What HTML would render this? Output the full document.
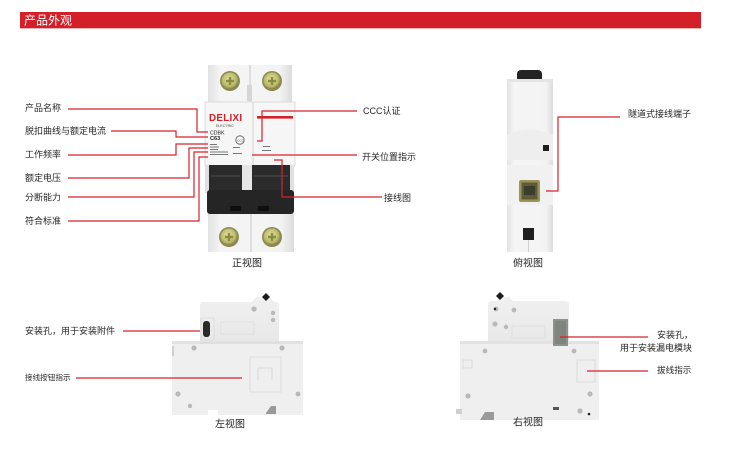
<!DOCTYPE html>
<html><head><meta charset="utf-8">
<style>
html,body{margin:0;padding:0;background:#fff;}
svg{display:block;}
text{font-family:"Liberation Sans","Noto Sans CJK SC",sans-serif;}
</style></head>
<body>
<svg width="731" height="454" viewBox="0 0 731 454" xmlns="http://www.w3.org/2000/svg">
<defs>
<radialGradient id="scr" cx="0.45" cy="0.4" r="0.6">
<stop offset="0" stop-color="#e6e6a0"/><stop offset="0.7" stop-color="#b9b86a"/><stop offset="1" stop-color="#7f7d45"/>
</radialGradient>
<linearGradient id="body" x1="0" x2="1" y1="0" y2="0">
<stop offset="0" stop-color="#e2e2e2"/><stop offset="0.15" stop-color="#f5f5f5"/><stop offset="0.85" stop-color="#f3f3f3"/><stop offset="1" stop-color="#dcdcdc"/>
</linearGradient>
<linearGradient id="side" x1="0" x2="0" y1="0" y2="1">
<stop offset="0" stop-color="#f0f0f0"/><stop offset="1" stop-color="#e8e8e8"/>
</linearGradient>
</defs>

<!-- header bar -->
<rect x="20" y="12" width="681" height="16" fill="#d31f28"/>
<rect x="20" y="28" width="681" height="1" fill="#e8b4b6"/>
<text x="24" y="24.5" font-size="12" fill="#fff">产品外观</text>

<!-- ============ FRONT VIEW ============ -->
<g>
<rect x="208" y="65" width="84" height="38" fill="url(#body)"/>
<line x1="250" y1="65" x2="250" y2="103" stroke="#c9c9c9" stroke-width="1"/>
<rect x="247" y="85" width="5" height="16" fill="#d5d5d5"/>
<circle cx="230" cy="81" r="10" fill="#8c8a52"/>
<circle cx="230" cy="81" r="8.5" fill="url(#scr)"/>
<path d="M226,81h8M230,77v8" stroke="#8a8a40" stroke-width="2.4"/>
<circle cx="272" cy="81" r="10" fill="#8c8a52"/>
<circle cx="272" cy="81" r="8.5" fill="url(#scr)"/>
<path d="M268,81h8M272,77v8" stroke="#8a8a40" stroke-width="2.4"/>
<rect x="205" y="102" width="90" height="64" fill="#f6f6f6" stroke="#d6d6d6" stroke-width="0.8"/>
<line x1="253" y1="102" x2="253" y2="166" stroke="#d0d0d0" stroke-width="0.8"/>
<text x="209" y="121" font-size="9.8" font-weight="bold" fill="#d0212a" letter-spacing="0.3">DELIXI</text>
<text x="216" y="127" font-size="3.6" fill="#444">ELECTRIC</text>
<text x="210" y="134.5" font-size="5.2" fill="#222">CDBK</text>
<text x="210" y="140" font-size="5.6" fill="#222" font-weight="bold">C63</text>
<circle cx="240" cy="140" r="4.2" fill="none" stroke="#555" stroke-width="0.8"/>
<text x="237.3" y="141.6" font-size="3" fill="#444">CCC</text>
<g fill="#777">
<rect x="210" y="144" width="7" height="1"/>
<rect x="210" y="146.5" width="9" height="1"/>
<rect x="210" y="149" width="8" height="1"/>
<rect x="210" y="151.5" width="18" height="1"/>
<rect x="210" y="154" width="18" height="1"/>
<rect x="233" y="147" width="7" height="1"/>
<rect x="233" y="153" width="9" height="1"/>
<rect x="263" y="146" width="7" height="1"/>
<rect x="262" y="150" width="9" height="1"/>
</g>
<rect x="257" y="116" width="36" height="2.6" fill="#d3212a"/>
<rect x="209" y="165" width="33" height="28" fill="#2b2b2b"/>
<rect x="252" y="165" width="38" height="28" fill="#2b2b2b"/>
<rect x="242" y="165" width="10" height="28" fill="#e6e6e6"/>
<rect x="290" y="165" width="4" height="28" fill="#e0e0e0"/>
<rect x="205" y="165" width="4" height="28" fill="#e0e0e0"/>
<rect x="211" y="175" width="29" height="2" fill="#3d3d3d"/>
<rect x="254" y="175" width="34" height="2" fill="#3d3d3d"/>
<rect x="207" y="190" width="87" height="24" rx="3" fill="#252525"/>
<rect x="230" y="206" width="11" height="5" fill="#0e0e0e"/>
<rect x="258" y="206" width="11" height="5" fill="#0e0e0e"/>
<rect x="208" y="214" width="86" height="38" fill="url(#body)"/>
<line x1="251" y1="214" x2="251" y2="252" stroke="#c9c9c9" stroke-width="1"/>
<circle cx="229" cy="237" r="10" fill="#8c8a52"/>
<circle cx="229" cy="237" r="8.5" fill="url(#scr)"/>
<path d="M225,237h8M229,233v8" stroke="#8a8a40" stroke-width="2.4"/>
<circle cx="272" cy="237" r="10" fill="#8c8a52"/>
<circle cx="272" cy="237" r="8.5" fill="url(#scr)"/>
<path d="M268,237h8M272,233v8" stroke="#8a8a40" stroke-width="2.4"/>
</g>

<!-- ============ TOP VIEW ============ -->
<g>
<rect x="517" y="70" width="25" height="12" rx="4" fill="#232323"/>
<rect x="507" y="79" width="46" height="173" fill="url(#body)"/>
<rect x="507" y="79" width="46" height="3" fill="#e4e4e4"/>
<path d="M507,135 Q530,124 553,135 V160 H507 Z" fill="#eeeeee"/>
<rect x="507" y="165" width="46" height="40" fill="#f1f1f1"/>
<rect x="543" y="145" width="6" height="6" fill="#1e1e1e"/>
<rect x="519" y="180" width="21" height="22" rx="2" fill="#9a9554"/>
<rect x="521.5" y="182.5" width="16" height="17" fill="#5d5c3a"/>
<rect x="524" y="186" width="11" height="9" fill="#3c3c2a"/>
<rect x="523" y="228" width="11" height="12" fill="#1f1f1f"/>
<line x1="528.5" y1="240" x2="528.5" y2="252" stroke="#c8c8c8" stroke-width="0.8"/>
</g>

<!-- ============ LEFT VIEW ============ -->
<g>
<path d="M203,302 H252 L256,297 H270 L274,302 H276 Q279,302 279,305 V342 H200 V305 Q200,302 203,302 Z" fill="url(#side)"/>
<rect x="172" y="341" width="131" height="74" fill="#efefef"/>
<rect x="172" y="341" width="131" height="3" fill="#e2e2e2"/>
<rect x="200" y="342" width="79" height="2" fill="#dedede"/>
<path d="M262,295 L266,291 L270,295 L266,299 Z" fill="#1c1c1c" transform="translate(0,2)"/>
<rect x="203" y="321" width="7" height="16" rx="3" fill="#2a2a2a"/>
<rect x="201" y="318" width="13" height="22" fill="none" stroke="#d4d4d4" stroke-width="0.6"/>
<rect x="221" y="322" width="33" height="12" fill="none" stroke="#dcdcdc" stroke-width="0.8"/>
<g fill="#b9b9b9">
<circle cx="254" cy="309" r="2.6"/><circle cx="273" cy="313" r="2.2"/><circle cx="273" cy="320" r="2.2"/>
<circle cx="194" cy="348" r="2.6"/><circle cx="282" cy="348" r="2.6"/>
<circle cx="178" cy="394" r="2.6"/><circle cx="190" cy="406" r="2.2"/><circle cx="298" cy="394" r="2.4"/>
</g>
<rect x="250" y="357" width="31" height="35" fill="none" stroke="#d8d8d8" stroke-width="0.8"/>
<path d="M258,380 V368 H272 V380" fill="none" stroke="#d2d2d2" stroke-width="0.8"/>
<rect x="172" y="346" width="2" height="10" fill="#d0d0d0"/>
<rect x="208" y="410" width="10" height="6" fill="#ffffff"/>
<path d="M266,413 L271,406 H276 V414 H266 Z" fill="#9a9a9a"/>
</g>

<!-- ============ RIGHT VIEW ============ -->
<g>
<path d="M491,301 H497 L499,297 H510 L513,301 H565 Q569,301 569,305 V343 H488 V304 Q488,301 491,301 Z" fill="url(#side)"/>
<rect x="460" y="341" width="139" height="79" fill="#efefef"/>
<rect x="460" y="341" width="139" height="3" fill="#e2e2e2"/>
<path d="M496,294 L500,290 L504,294 L500,298 Z" fill="#1c1c1c" transform="translate(0,2)"/>
<rect x="553" y="319" width="15" height="27" fill="#8d928b"/>
<rect x="555" y="321" width="11" height="23" fill="#7f857e"/>
<rect x="512" y="326" width="33" height="12" fill="none" stroke="#dcdcdc" stroke-width="0.8"/>
<g fill="#b9b9b9">
<circle cx="496" cy="309" r="2.4"/><circle cx="514" cy="310" r="2.4"/>
<circle cx="495" cy="324" r="2.6"/><circle cx="506" cy="327" r="2.2"/>
<circle cx="485" cy="351" r="2.4"/><circle cx="574" cy="351" r="2.4"/>
<circle cx="468" cy="396" r="2.6"/><circle cx="590" cy="394" r="2.6"/><circle cx="580" cy="411" r="2.6"/>
</g>
<circle cx="495" cy="309" r="1.2" fill="#222"/>
<circle cx="589" cy="414" r="1.3" fill="#222"/>
<rect x="577" y="360" width="18" height="22" fill="none" stroke="#d6d6d6" stroke-width="0.8"/>
<rect x="463" y="360" width="9" height="8" fill="none" stroke="#d6d6d6" stroke-width="0.8"/>
<path d="M480,420 L485,412 H494 V420 Z" fill="#9a9a9a"/>
<rect x="456" y="409" width="6" height="5" fill="#cfcfcf"/>
<rect x="553" y="407" width="6" height="3" fill="#555"/>
</g>

<!-- ============ CONNECTOR LINES ============ -->
<g fill="none" stroke="#d6222c" stroke-width="1.2">
<path d="M68,109 H197 V132 H208"/>
<path d="M111,131 H176 V137 H208"/>
<path d="M68,155 H176 V144 H208"/>
<path d="M68,178 H189 V148 H208"/>
<path d="M68,197 H194 V152 H208"/>
<path d="M68,221 H199 V157 H208"/>
<path d="M357,111 H262 V141 H257"/>
<path d="M357,155 H252"/>
<path d="M382,197 H282 V160 H274"/>
<path d="M620,117 H558 V191 H546"/>
<path d="M123,331 H200"/>
<path d="M76,378 H242"/>
<path d="M648,337 H560"/>
<path d="M648,371 H587"/>
</g>

<!-- ============ LABELS ============ -->
<g font-size="9" fill="#262626">
<text x="25" y="111.2">产品名称</text>
<text x="25" y="134.2">脱扣曲线与额定电流</text>
<text x="25" y="157.5">工作频率</text>
<text x="25" y="181">额定电压</text>
<text x="25" y="200.3">分断能力</text>
<text x="25" y="224">符合标准</text>
<text x="363" y="114.2">CCC认证</text>
<text x="362" y="160.2">开关位置指示</text>
<text x="384" y="201.2">接线图</text>
<text x="628" y="117.2">隧道式接线端子</text>
<text x="25" y="334.2">安装孔，用于安装附件</text>
<text x="25" y="380.2" font-size="7.6">接线按钮指示</text>
<text x="657" y="338.2">安装孔，</text>
<text x="620" y="351.2">用于安装漏电模块</text>
<text x="657" y="373.2" font-size="8.6">拔线指示</text>
</g>
<g font-size="10" fill="#262626">
<text x="232" y="266.5">正视图</text>
<text x="513" y="266.5">俯视图</text>
<text x="215" y="427.5">左视图</text>
<text x="513" y="425.5">右视图</text>
</g>
</svg>
</body></html>
